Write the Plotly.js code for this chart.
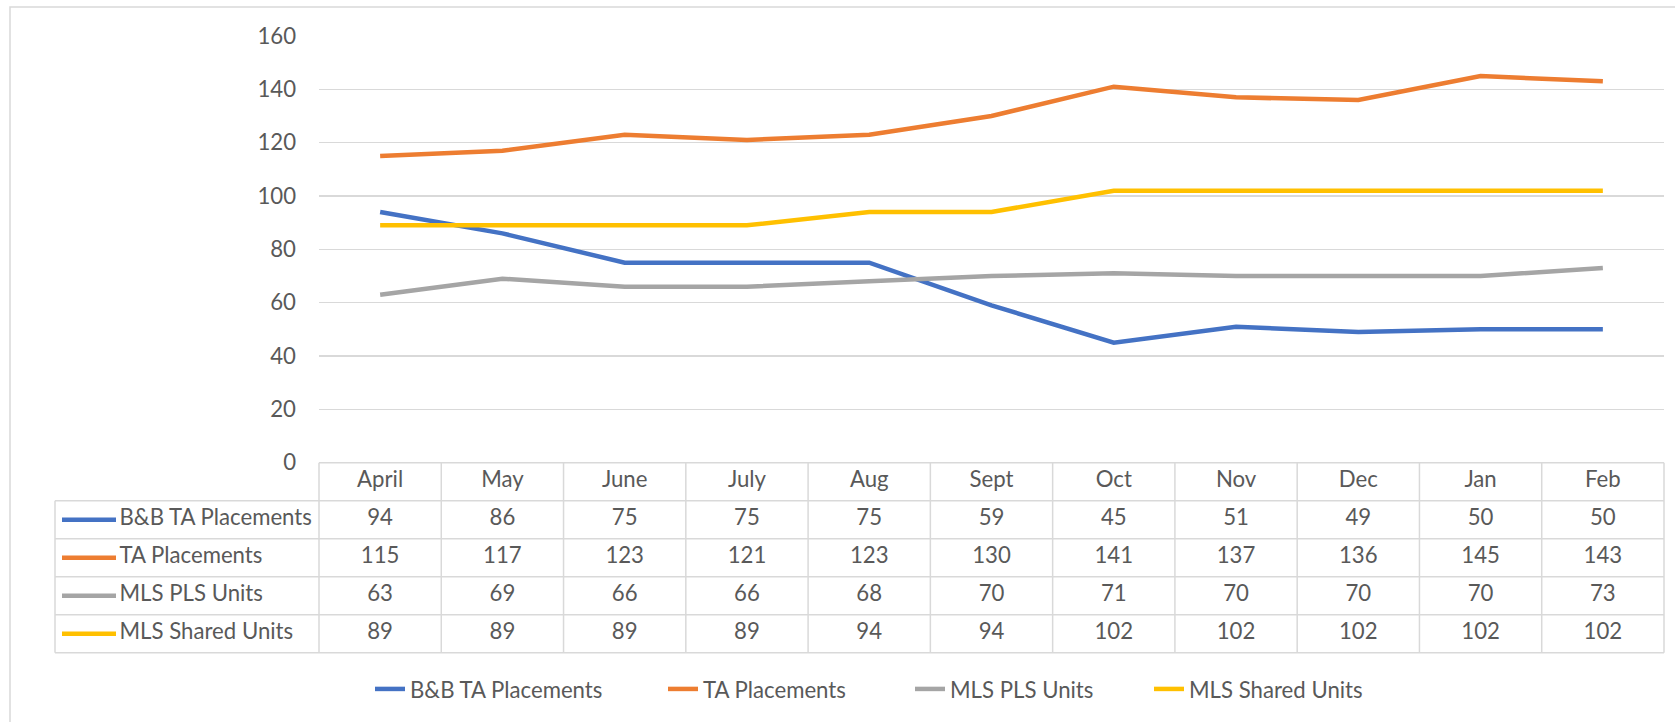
<!DOCTYPE html>
<html>
<head>
<meta charset="utf-8">
<script src="https://cdn.plot.ly/plotly-3.0.1.min.js"></script>
<style>html,body{margin:0;padding:0;background:#fff;}#chart{width:1675px;height:722px;}</style>
</head>
<body>
<div id="chart"></div>
<script>
// ---- data ----
const months = ['April','May','June','July','Aug','Sept','Oct','Nov','Dec','Jan','Feb'];
const seriesNames = ['B&B TA Placements','TA Placements','MLS PLS Units','MLS Shared Units'];
const bbTAPlacements = [94,86,75,75,75,59,45,51,49,50,50];
const taPlacements = [115,117,123,121,123,130,141,137,136,145,143];
const mlsPLSUnits = [63,69,66,66,68,70,71,70,70,70,73];
const mlsSharedUnits = [89,89,89,89,94,94,102,102,102,102,102];
const yTicks = [0,20,40,60,80,100,120,140,160];

// ---- styles / geometry ----
const seriesValues = [bbTAPlacements, taPlacements, mlsPLSUnits, mlsSharedUnits];
const colors = ['#4472C4','#ED7D31','#A5A5A5','#FFC000'];
const W = 1675, H = 722;
const plotL = 319, plotR = 1664, plotT = 36, plotB = 462.7;
const colW = (plotR - plotL) / months.length;
const tabL = 55, rowH = 38, nRows = seriesNames.length + 1, tabB = plotB + rowH * nRows;
const pad = 4;
const FONT = 'Lato, "Open Sans", sans-serif';
const FS = 22.2;
const TXT = '#595959';
const GRID = '#D9D9D9';
const legendTextStart = [410, 703, 950, 1189];
const legendIds = ['legend', 'legend2', 'legend3', 'legend4'];
const px2x = p => (p - plotL) / colW - 0.5;
const idx = months.map((m, i) => i);

const traces = [];
seriesNames.forEach((name, s) => {
  traces.push({
    type: 'scatter', mode: 'lines', name: name, legend: legendIds[s],
    x: months, y: seriesValues[s], xaxis: 'x', yaxis: 'y',
    line: {color: colors[s], width: 4.5},
    hoverinfo: 'skip'
  });
});
// table header
traces.push({
  type: 'scatter', mode: 'text', x: idx, y: months.map(() => 0.5), text: months,
  xaxis: 'x2', yaxis: 'y2', showlegend: false, hoverinfo: 'skip',
  textfont: {family: FONT, size: FS, color: TXT}
});
// table values
seriesNames.forEach((name, s) => {
  traces.push({
    type: 'scatter', mode: 'text', x: idx, y: months.map(() => s + 1.5),
    text: seriesValues[s].map(String),
    xaxis: 'x2', yaxis: 'y2', showlegend: false, hoverinfo: 'skip',
    textfont: {family: FONT, size: FS, color: TXT}
  });
});
// row labels
traces.push({
  type: 'scatter', mode: 'text', x: seriesNames.map(() => px2x(119.5)),
  y: seriesNames.map((n, s) => s + 1.5), text: seriesNames, textposition: 'middle right',
  xaxis: 'x2', yaxis: 'y2', showlegend: false, hoverinfo: 'skip',
  textfont: {family: FONT, size: FS, color: TXT}
});

const shapes = [];
// outer chart border
shapes.push({type: 'rect', xref: 'paper', yref: 'paper', x0: 10 / W, x1: 1.02, y0: -0.05, y1: 1 - 7 / H,
  line: {color: GRID, width: 1.5}, layer: 'below'});
// table grid
const gl = {color: GRID, width: 1.5};
shapes.push({type: 'line', xref: 'x2', yref: 'y2', x0: -0.5, x1: months.length - 0.5, y0: 0, y1: 0, line: gl});
for (let r = 1; r <= nRows; r++) {
  shapes.push({type: 'line', xref: 'x2', yref: 'y2', x0: px2x(tabL), x1: months.length - 0.5, y0: r, y1: r, line: gl});
}
for (let k = 0; k <= months.length; k++) {
  shapes.push({type: 'line', xref: 'x2', yref: 'y2', x0: k - 0.5, x1: k - 0.5, y0: 0, y1: nRows, line: gl});
}
shapes.push({type: 'line', xref: 'x2', yref: 'y2', x0: px2x(tabL), x1: px2x(tabL), y0: 1, y1: nRows, line: gl});
// legend keys inside table
seriesNames.forEach((name, s) => {
  shapes.push({type: 'line', xref: 'x2', yref: 'y2', x0: px2x(62), x1: px2x(116), y0: s + 1.5, y1: s + 1.5,
    line: {color: colors[s], width: 4.5}});
});

const layout = {
  width: W, height: H,
  margin: {l: 0, r: 0, t: 0, b: 0},
  paper_bgcolor: '#fff', plot_bgcolor: 'rgba(0,0,0,0)',
  font: {family: FONT, size: FS, color: TXT},
  showlegend: true,
  hovermode: false,
  xaxis: {
    type: 'category', domain: [plotL / W, plotR / W], range: [-0.5, months.length - 0.5],
    showgrid: false, zeroline: false, showticklabels: false, showline: false, anchor: 'y', fixedrange: true
  },
  yaxis: {
    domain: [1 - plotB / H, 1 - plotT / H], range: [0, 160], tickvals: yTicks,
    showgrid: true, gridcolor: GRID, gridwidth: 1.5, zeroline: false, showline: false,
    ticks: '', ticklabelstandoff: 22, tickfont: {family: FONT, size: FS, color: TXT}, anchor: 'x', fixedrange: true
  },
  xaxis2: {
    domain: [(tabL - pad) / W, (plotR + pad) / W], range: [px2x(tabL - pad), px2x(plotR + pad)],
    showgrid: false, zeroline: false, showticklabels: false, showline: false, anchor: 'y2', fixedrange: true
  },
  yaxis2: {
    domain: [1 - (tabB + pad) / H, 1 - (plotB - pad) / H], range: [nRows + pad / rowH, -pad / rowH],
    showgrid: false, zeroline: false, showticklabels: false, showline: false, anchor: 'x2', fixedrange: true
  },
  shapes: shapes
};
legendIds.forEach((id, s) => {
  layout[id] = {
    orientation: 'h', x: (legendTextStart[s] - 40) / W, xanchor: 'left', y: 1 - 689 / H, yanchor: 'middle',
    font: {family: FONT, size: FS, color: TXT}, bgcolor: 'rgba(0,0,0,0)'
  };
});

Plotly.newPlot('chart', traces, layout, {staticPlot: true, displayModeBar: false});
</script>
</body>
</html>
